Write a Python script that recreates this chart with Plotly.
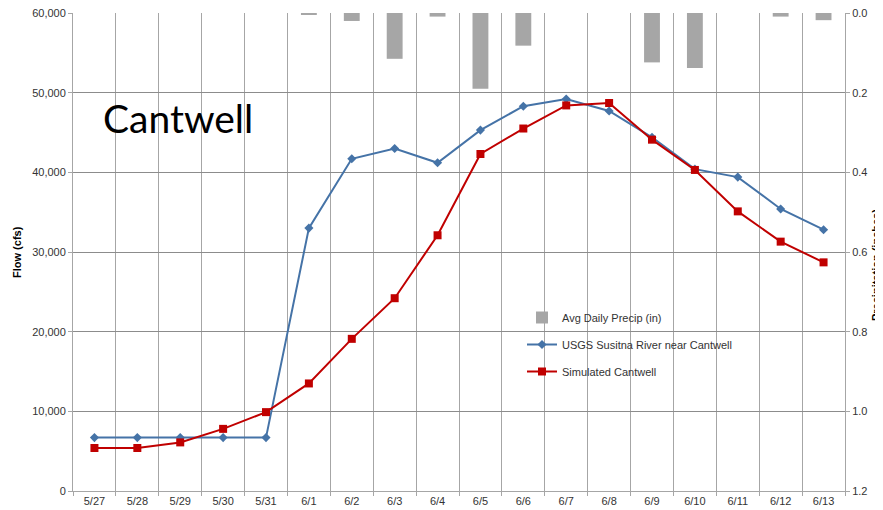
import plotly.graph_objects as go

dates = ["5/27", "5/28", "5/29", "5/30", "5/31", "6/1", "6/2", "6/3", "6/4",
         "6/5", "6/6", "6/7", "6/8", "6/9", "6/10", "6/11", "6/12", "6/13"]
precip = [0, 0, 0, 0, 0, 0.005, 0.02, 0.115, 0.009, 0.19, 0.082, 0, 0,
          0.124, 0.138, 0, 0.009, 0.018]
usgs = [6700, 6700, 6700, 6700, 6700, 33000, 41700, 43000, 41200, 45300,
        48300, 49200, 47700, 44400, 40400, 39400, 35400, 32800]
simulated = [5400, 5400, 6100, 7800, 9900, 13500, 19100, 24200, 32100, 42300,
             45500, 48400, 48700, 44100, 40300, 35100, 31300, 28700]

W, H = 883, 510
OFF = 8  # default page body margin in the browser
L, R, T, B = 73, 845, 13, 491
pw, ph = R - L, B - T

def px(x):
    return (x - L) / pw

def py(y):
    return (B - y) / ph

FONT = "Liberation Sans, Arial, sans-serif"

fig = go.Figure()
fig.add_trace(go.Bar(
    x=dates, y=precip, name="Avg Daily Precip (in)", yaxis="y2",
    marker=dict(color="#a6a6a6", line=dict(width=0)), width=0.37,
    legendgroup="a"))
fig.add_trace(go.Scatter(
    x=dates, y=usgs, name="USGS Susitna River near Cantwell", mode="lines+markers",
    line=dict(color="#4573a7", width=2), marker=dict(symbol="diamond", size=7, color="#4573a7"),
    legendgroup="b"))
fig.add_trace(go.Scatter(
    x=dates, y=simulated, name="Simulated Cantwell", mode="lines+markers",
    line=dict(color="#c00000", width=2), marker=dict(symbol="square", size=8, color="#c00000"),
    legendgroup="c"))

fig.update_layout(
    width=W - OFF, height=H - OFF,
    margin=dict(l=L - OFF, r=W - R, t=T - OFF, b=H - B, autoexpand=False),
    paper_bgcolor="white", plot_bgcolor="white",
    font=dict(family=FONT, size=11, color="#333333"),
    xaxis=dict(type="category", range=[-0.5, len(dates) - 0.5], tickson="boundaries",
               showgrid=True, gridcolor="#a6a6a6",
               gridwidth=1, ticks="outside", ticklen=4, tickcolor="#a6a6a6",
               showline=True, linecolor="#a6a6a6", linewidth=1,
               tickfont=dict(size=11, color="#333333"), automargin=False),
    yaxis=dict(range=[0, 60000], dtick=10000, tickformat=",", showgrid=True,
               gridcolor="#8c8c8c", gridwidth=1, ticks="outside", ticklen=4,
               tickcolor="#a6a6a6", showline=True, linecolor="#a6a6a6",
               zeroline=False, tickfont=dict(size=11, color="#333333"), automargin=False,
               ticklabeloverflow="allow"),
    yaxis2=dict(range=[1.2, 0], dtick=0.2, tickformat=".1f", overlaying="y", side="right",
                showgrid=False, ticks="outside", ticklen=4, tickcolor="#a6a6a6",
                showline=True, linecolor="#a6a6a6", zeroline=False,
                tickfont=dict(size=11, color="#333333"), automargin=False,
                ticklabeloverflow="allow"),
    legend=dict(x=px(522), y=py(303), xanchor="left", yanchor="top",
                bgcolor="rgba(0,0,0,0)", borderwidth=0, tracegroupgap=8,
                font=dict(size=11, color="#333333", family=FONT)),
    showlegend=True,
    shapes=[
        dict(type="rect", xref="paper", yref="paper", x0=px(84), x1=px(301),
             y0=py(155), y1=py(83), fillcolor="white", line=dict(width=0), layer="between"),
        dict(type="rect", xref="paper", yref="paper", x0=px(525), x1=px(760),
             y0=py(386), y1=py(305), fillcolor="white", line=dict(width=0), layer="between"),
    ],
    annotations=[
        dict(text="Cantwell", xref="paper", yref="paper", x=px(101), y=py(118),
             xanchor="left", yanchor="middle", showarrow=False,
             font=dict(family="Lato, sans-serif", size=39, color="black")),
        dict(text="<b>Flow (cfs)</b>", xref="paper", yref="paper", x=px(17), y=0.5,
             xanchor="center", yanchor="middle", textangle=-90, showarrow=False,
             font=dict(size=11, color="black")),
        dict(text="<b>Precipitation (inches)</b>", xref="paper", yref="paper", x=px(876),
             y=py(265), xanchor="center", yanchor="middle", textangle=-90, showarrow=False,
             font=dict(size=11, color="black")),
    ],
)

fig.write_html("out.html")
